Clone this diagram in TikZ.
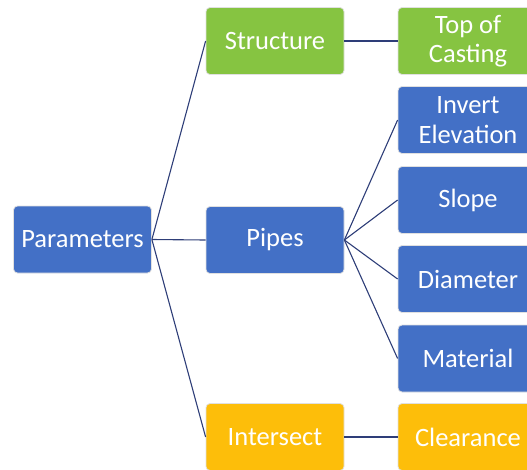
\documentclass[tikz,border=0pt]{standalone}
\usepackage{fontspec}
\setmainfont{Carlito}
\definecolor{boxblue}{HTML}{4370C6}
\definecolor{boxgreen}{HTML}{86C441}
\definecolor{boxgold}{HTML}{FDBE0A}
\definecolor{linknavy}{HTML}{2E3E78}
\begin{document}
\begin{tikzpicture}[x=1pt,y=-1pt,
  box/.style={rectangle, rounded corners=4pt, draw=black!12, line width=0.8pt,
    minimum width=138pt, minimum height=67pt, inner sep=2pt, text=white,
    align=center, font=\fontsize{26.5}{29.5}\selectfont},
  bluebox/.style={box, fill=boxblue},
  greenbox/.style={box, fill=boxgreen},
  goldbox/.style={box, fill=boxgold},
  wide/.style={minimum width=140pt},
  link/.style={draw=linknavy, line width=1.1pt}]
\useasboundingbox (0,0) rectangle (527,469);
\clip (0,0) rectangle (527,469);
\node[bluebox] (par) at (82.5,239.5) {Parameters};
\node[greenbox] (str) at (275,41) {Structure};
\node[bluebox] (pip) at (275,240) {Pipes};
\node[goldbox] (int) at (275,437) {Intersect};
\node[greenbox,wide] (top) at (468,41) {Top of\\Casting};
\node[bluebox,wide] (inv) at (468,120) {Invert\\Elevation};
\node[bluebox,wide] (slo) at (468,200) {Slope};
\node[bluebox,wide] (dia) at (468,279) {Diameter};
\node[bluebox,wide] (mat) at (468,358.5) {Material};
\node[goldbox,wide] (cle) at (468,437) {Clearance};
\draw[link] (par.east) -- (str.west);
\draw[link] (par.east) -- (pip.west);
\draw[link] (par.east) -- (int.west);
\draw[link] (str.east) -- (top.west);
\draw[link] (pip.east) -- (inv.west);
\draw[link] (pip.east) -- (slo.west);
\draw[link] (pip.east) -- (dia.west);
\draw[link] (pip.east) -- (mat.west);
\draw[link] (int.east) -- (cle.west);
\end{tikzpicture}
\end{document}
